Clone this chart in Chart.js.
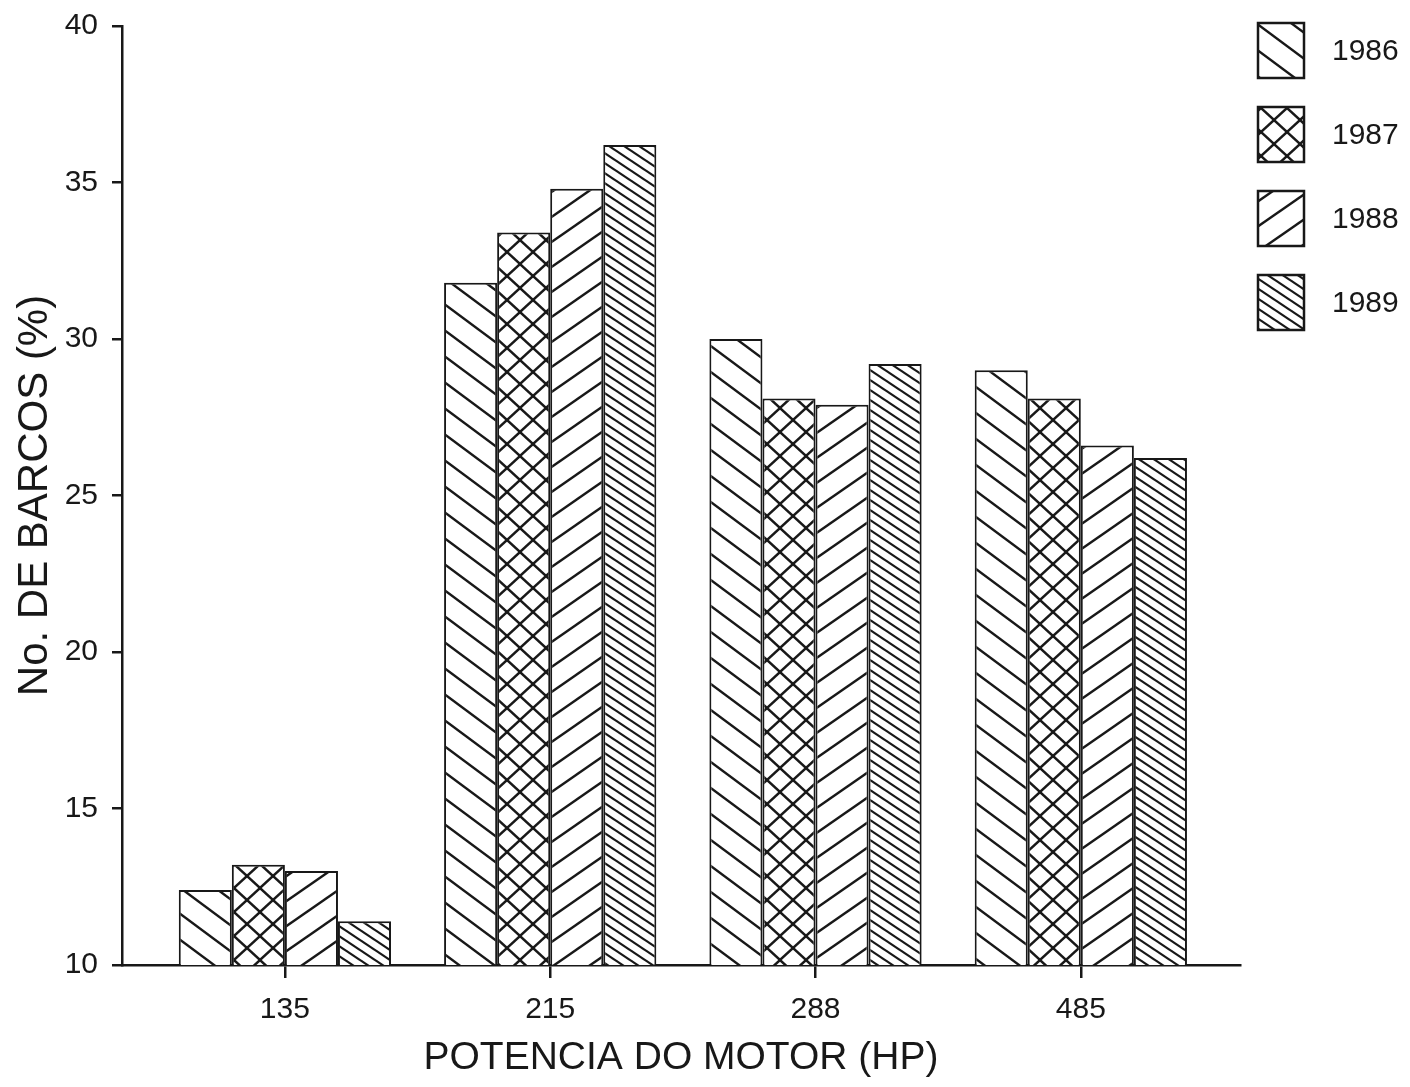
<!DOCTYPE html>
<html>
<head>
<meta charset="utf-8">
<script src="https://cdn.jsdelivr.net/npm/chart.js@4/dist/chart.umd.min.js"></script>
<style>
  html, body { margin: 0; padding: 0; background: #fff; }
  canvas { display: block; }
</style>
</head>
<body>
<canvas id="chart" width="1410" height="1087"></canvas>
<script>
// Engine power classes (HP) and share of boats per year (%)
const categories = ['135', '215', '288', '485'];
const years = ['1986', '1987', '1988', '1989'];
const v1986 = [12.4, 31.8, 30.0, 29.0];
const v1987 = [13.2, 33.4, 28.1, 28.1];
const v1988 = [13.0, 34.8, 27.9, 26.6];
const v1989 = [11.4, 36.2, 29.2, 26.2];
const yTicks = [10, 15, 20, 25, 30, 35, 40];

const INK = '#181818';
const FONT = "'Liberation Sans', Arial, sans-serif";

// Hatch fill: a repeating tile with diagonal strokes ('down' = \, 'up' = /)
function hatch(w, h, dirs, lw) {
  const c = document.createElement('canvas');
  c.width = w; c.height = h;
  const g = c.getContext('2d');
  g.fillStyle = '#fff';
  g.fillRect(0, 0, w, h);
  g.strokeStyle = INK;
  g.lineWidth = lw;
  for (const d of dirs) {
    for (let k = -1; k <= 1; k++) {
      g.beginPath();
      if (d === 'down') { g.moveTo(k * w - w, -h); g.lineTo(k * w + 2 * w, 2 * h); }
      else { g.moveTo(k * w - w, 2 * h); g.lineTo(k * w + 2 * w, -h); }
      g.stroke();
    }
  }
  return g.createPattern(c, 'repeat');
}

const series = [v1986, v1987, v1988, v1989];
const fills = [
  hatch(35, 26, ['down'], 2.4),
  hatch(26, 24, ['down', 'up'], 2.4),
  hatch(36, 25, ['up'], 2.4),
  hatch(15, 10, ['down'], 2.2)
];

// Legend drawn as tall hatched boxes to the right of the plot
const hatchLegend = {
  id: 'hatchLegend',
  afterDraw(chart) {
    const ctx = chart.ctx;
    const x = chart.chartArea.right + 17;
    const w = 48, h = 57, step = 84;
    let top = chart.chartArea.top - 4;
    ctx.save();
    chart.data.datasets.forEach((ds) => {
      ctx.fillStyle = ds.backgroundColor;
      ctx.fillRect(x, top, w, h);
      ctx.strokeStyle = INK;
      ctx.lineWidth = 2.5;
      ctx.strokeRect(x + 1, top + 1, w - 2, h - 2);
      ctx.fillStyle = INK;
      ctx.font = '30px ' + FONT;
      ctx.textAlign = 'left';
      ctx.textBaseline = 'middle';
      ctx.fillText(ds.label, x + w + 27, top + h / 2 + 1);
      top += step;
    });
    ctx.restore();
  }
};

new Chart(document.getElementById('chart'), {
  type: 'bar',
  data: {
    datasets: years.map((y, i) => ({
      label: y,
      data: series[i].map((v, j) => ({ x: j + 1, y: v })),
      backgroundColor: fills[i],
      borderColor: INK,
      borderWidth: 2,
      borderSkipped: false,
      categoryPercentage: 0.8,
      barPercentage: 1.0
    }))
  },
  options: {
    responsive: false,
    animation: false,
    devicePixelRatio: 1,
    layout: { padding: { left: 0, right: 170, top: 26, bottom: 0 } },
    plugins: {
      legend: { display: false },
      tooltip: { enabled: false }
    },
    scales: {
      x: {
        type: 'linear',
        min: 0.386,
        max: 4.6,
        offset: false,
        afterBuildTicks: (s) => { s.ticks = categories.map((_, i) => ({ value: i + 1 })); },
        afterFit: (s) => { s.height = 122; },
        ticks: {
          callback: (v) => categories[Math.round(v) - 1],
          font: { family: FONT, size: 30 },
          color: INK,
          padding: 14,
          maxRotation: 0,
          autoSkip: false
        },
        grid: { offset: false, drawOnChartArea: false, drawTicks: true, tickLength: 13, color: INK, lineWidth: 2.5 },
        border: { display: true, color: INK, width: 2.5 },
        title: {
          display: true,
          text: 'POTENCIA DO MOTOR (HP)',
          font: { family: FONT, size: 39 },
          color: INK,
          padding: { top: 0, bottom: 5 }
        }
      },
      y: {
        min: 10,
        max: 40,
        afterBuildTicks: (s) => { s.ticks = yTicks.map((v) => ({ value: v })); },
        afterFit: (s) => { s.width = 122; s.paddingTop = 10; s.paddingBottom = 10; },
        ticks: {
          font: { family: FONT, size: 30 },
          color: INK,
          padding: 14
        },
        grid: { drawOnChartArea: false, drawTicks: true, tickLength: 10, color: INK, lineWidth: 2.5 },
        border: { display: true, color: INK, width: 2.5 },
        title: {
          display: true,
          text: 'No. DE BARCOS (%)',
          font: { family: FONT, size: 42 },
          color: INK,
          padding: { top: 10, bottom: 0 }
        }
      }
    }
  },
  plugins: [hatchLegend]
});
</script>
</body>
</html>
